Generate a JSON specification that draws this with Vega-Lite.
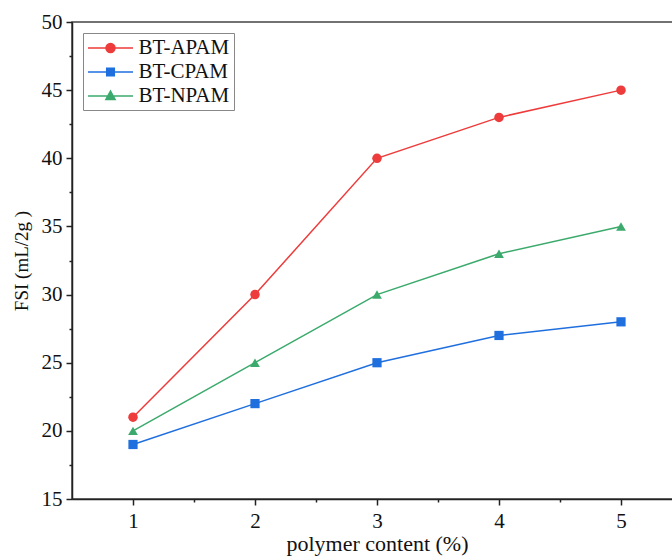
{
  "$schema": "https://vega.github.io/schema/vega-lite/v6.json",
  "autosize": {"type": "none"},
  "padding": {"left": 72, "top": 22, "right": 0, "bottom": 57},
  "width": 610,
  "height": 477,
  "background": "white",
  "config": {
    "font": "Liberation Serif",
    "view": {"stroke": "#444", "strokeWidth": 1.5},
    "axis": {
      "labelFont": "Liberation Serif",
      "titleFont": "Liberation Serif",
      "labelFontSize": 21,
      "titleFontSize": 22,
      "titleFontWeight": "normal",
      "labelColor": "#111",
      "titleColor": "#111",
      "domainColor": "#222",
      "domainWidth": 1.5,
      "tickColor": "#222",
      "tickWidth": 1.5,
      "grid": false
    }
  },
  "data": {
    "values": [
      {"x": 1, "y": 21, "series": "BT-APAM"},
      {"x": 2, "y": 30, "series": "BT-APAM"},
      {"x": 3, "y": 40, "series": "BT-APAM"},
      {"x": 4, "y": 43, "series": "BT-APAM"},
      {"x": 5, "y": 45, "series": "BT-APAM"},
      {"x": 1, "y": 19, "series": "BT-CPAM"},
      {"x": 2, "y": 22, "series": "BT-CPAM"},
      {"x": 3, "y": 25, "series": "BT-CPAM"},
      {"x": 4, "y": 27, "series": "BT-CPAM"},
      {"x": 5, "y": 28, "series": "BT-CPAM"},
      {"x": 1, "y": 20, "series": "BT-NPAM"},
      {"x": 2, "y": 25, "series": "BT-NPAM"},
      {"x": 3, "y": 30, "series": "BT-NPAM"},
      {"x": 4, "y": 33, "series": "BT-NPAM"},
      {"x": 5, "y": 35, "series": "BT-NPAM"}
    ]
  },
  "resolve": {"axis": {"x": "independent", "y": "independent"}},
  "layer": [
    {
      "mark": {"type": "line", "strokeWidth": 1.5},
      "encoding": {
        "x": {"field": "x", "type": "quantitative", "scale": {"domain": [0.5, 5.5], "nice": false},
              "axis": {"values": [1, 2, 3, 4, 5], "title": "polymer content (%)", "tickSize": 6, "labelPadding": 5, "titlePadding": 2, "titleFontSize": 22, "format": "d"}},
        "y": {"field": "y", "type": "quantitative", "scale": {"domain": [15, 50], "nice": false, "zero": false},
              "axis": {"values": [15, 20, 25, 30, 35, 40, 45, 50], "title": "FSI (mL/2g )", "titleFontSize": 19, "tickSize": 6, "labelPadding": 4, "titlePadding": 10}},
        "color": {"field": "series", "type": "nominal",
                  "scale": {"domain": ["BT-APAM", "BT-CPAM", "BT-NPAM"], "range": ["#EE3B3B", "#1F6FDF", "#3BAA6C"]},
                  "legend": {
                    "orient": "none", "legendX": 11, "legendY": 11, "title": null,
                    "fillColor": "white", "strokeColor": "#888", "padding": 4,
                    "labelFont": "Liberation Serif", "labelFontSize": 21, "labelColor": "#111",
                    "rowPadding": 3, "symbolSize": 400, "symbolOffset": 12.5, "labelOffset": 17,
                    "encode": {
                      "symbols": {
                        "update": {
                          "shape": {"signal": "datum.value === 'BT-APAM' ? 'M-2.25,0H2.25M-0.45,0A0.45,0.45 0 1,0 0.45,0A0.45,0.45 0 1,0 -0.45,0Z' : datum.value === 'BT-CPAM' ? 'M-2.25,0H2.25M-0.38,-0.38H0.38V0.38H-0.38Z' : 'M-2.25,0H2.25M0,-0.5L0.46,0.34H-0.46Z'"},
                          "size": {"value": 400},
                          "fill": {"scale": "color", "field": "value"},
                          "stroke": {"scale": "color", "field": "value"},
                          "strokeWidth": {"value": 1.5},
                          "opacity": {"value": 1}
                        }
                      }
                    }
                  }}
      }
    },
    {
      "transform": [{"filter": "datum.series === 'BT-APAM'"}],
      "mark": {"type": "point", "filled": true, "opacity": 1, "size": 90, "shape": "circle"},
      "encoding": {
        "x": {"field": "x", "type": "quantitative", "axis": {"values": [1.5, 2.5, 3.5, 4.5], "labels": false, "domain": false, "tickSize": 3, "title": null, "orient": "bottom"}},
        "y": {"field": "y", "type": "quantitative", "axis": {"values": [17.5, 22.5, 27.5, 32.5, 37.5, 42.5, 47.5], "labels": false, "domain": false, "tickSize": 3, "title": null, "orient": "left"}},
        "color": {"field": "series", "type": "nominal"}
      }
    },
    {
      "transform": [{"filter": "datum.series === 'BT-CPAM'"}],
      "mark": {"type": "point", "filled": true, "opacity": 1, "size": 85, "shape": "square"},
      "encoding": {
        "x": {"field": "x", "type": "quantitative", "axis": null},
        "y": {"field": "y", "type": "quantitative", "axis": null},
        "color": {"field": "series", "type": "nominal"}
      }
    },
    {
      "transform": [{"filter": "datum.series === 'BT-NPAM'"}],
      "mark": {"type": "point", "filled": true, "opacity": 1, "size": 95, "shape": "triangle-up"},
      "encoding": {
        "x": {"field": "x", "type": "quantitative", "axis": null},
        "y": {"field": "y", "type": "quantitative", "axis": null},
        "color": {"field": "series", "type": "nominal"}
      }
    }
  ]
}
